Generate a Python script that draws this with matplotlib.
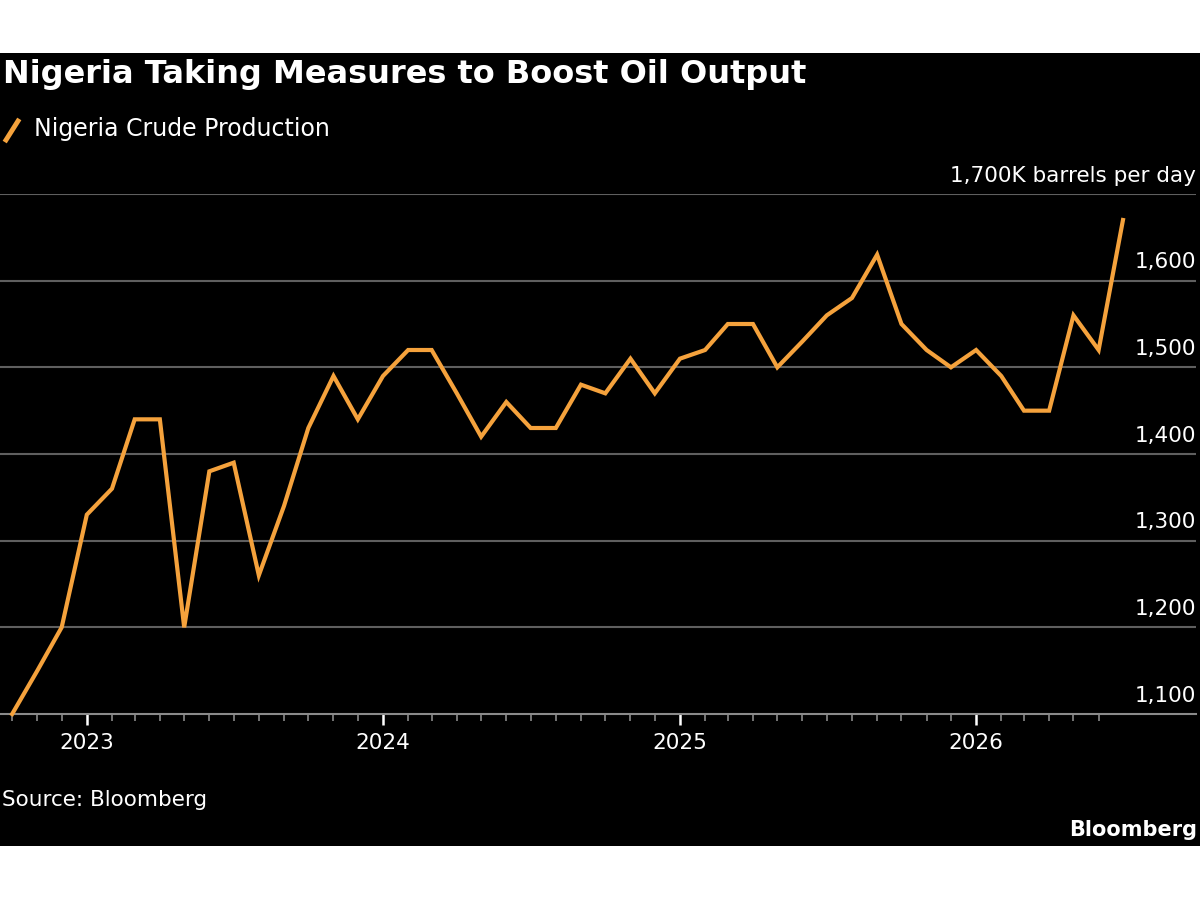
import pandas as pd
import matplotlib
matplotlib.use("Agg")
import matplotlib.pyplot as plt
import matplotlib.transforms as mtransforms
from matplotlib.lines import Line2D
from matplotlib.patches import Rectangle

# monthly Nigeria crude production, thousand barrels per day
start_month = "2022-10-01"
production = [1100, 1150, 1200,
              1330, 1360, 1440, 1440, 1200, 1380, 1390, 1260, 1340, 1430, 1490, 1440,
              1490, 1520, 1520, 1470, 1420, 1460, 1430, 1430, 1480, 1470, 1510, 1470,
              1510, 1520, 1550, 1550, 1500, 1530, 1560, 1580, 1630, 1550, 1520, 1500,
              1520, 1490, 1450, 1450, 1560, 1520, 1670]
y_ticks = [1100, 1200, 1300, 1400, 1500, 1600, 1700]
y_labels = ["1,100", "1,200", "1,300", "1,400", "1,500", "1,600", "1,700K barrels per day"]
years = ["2023", "2024", "2025", "2026"]

title = "Nigeria Taking Measures to Boost Oil Output"
series_name = "Nigeria Crude Production"
source = "Source: Bloomberg"

ORANGE = "#F5A23C"
GRID = "#5f5f5f"

dates = pd.date_range(start_month, periods=len(production), freq="MS")

fig = plt.figure(figsize=(12, 9), dpi=100, facecolor="white")
# black panel behind the whole chart
fig.patches.append(Rectangle((0, 1 - 846 / 900), 1, (846 - 53) / 900,
                             transform=fig.transFigure, facecolor="black",
                             edgecolor="none", zorder=-5))

ax = fig.add_axes([0.0, 1 - 714 / 900, 1196 / 1200, (714 - 194) / 900])
ax.set_facecolor("black")

ax.plot(dates, production, color=ORANGE, lw=3, solid_joinstyle="miter", zorder=3,
        clip_on=False)

ax.set_ylim(y_ticks[0], y_ticks[-1])
ax.set_xlim(pd.Timestamp("2022-09-16"), pd.Timestamp("2026-09-29"))

# horizontal gridlines with labels sitting on top, right aligned
ax.set_yticks([])
for v in y_ticks[1:]:
    ax.axhline(v, color=GRID, lw=1.5, zorder=1)
trans = mtransforms.blended_transform_factory(ax.transAxes, ax.transData)
offset = mtransforms.ScaledTranslation(0, 6 / 72, fig.dpi_scale_trans)
for v, lab in zip(y_ticks, y_labels):
    ax.text(1.0, v, lab, transform=trans + offset, ha="right", va="bottom",
            color="white", fontsize=15.5)

# x axis: year ticks + monthly minor ticks
major = [pd.Timestamp(y + "-01-01") for y in years]
minor = [d for d in dates[:-1] if d.month != 1]
ax.set_xticks(major)
ax.set_xticklabels(years)
ax.set_xticks(minor, minor=True)
ax.tick_params(axis="x", which="major", length=8, width=1.8, color="white",
               labelcolor="white", labelsize=15.5, pad=6)
ax.tick_params(axis="x", which="minor", length=5, width=1.2, color="#8a8a8a")

for s in ["top", "left", "right"]:
    ax.spines[s].set_visible(False)
ax.spines["bottom"].set_color("#8a8a8a")
ax.spines["bottom"].set_linewidth(1.5)

# title, legend, footer
fig.text(3 / 1200, 1 - 75 / 900, title, color="white", fontsize=23,
         fontweight="bold", ha="left", va="center")
fig.lines.append(Line2D([6 / 1200, 18 / 1200], [1 - 140 / 900, 1 - 121 / 900],
                        transform=fig.transFigure, color=ORANGE, lw=3.5))
fig.text(34 / 1200, 1 - 129 / 900, series_name, color="white", fontsize=17,
         ha="left", va="center")
fig.text(2 / 1200, 1 - 800 / 900, source, color="white", fontsize=15.5,
         ha="left", va="center")
fig.text(1197 / 1200, 1 - 830 / 900, "Bloomberg", color="white", fontsize=15,
         fontweight="bold", ha="right", va="center")

fig.savefig("out.png", dpi=100, facecolor=fig.get_facecolor())
